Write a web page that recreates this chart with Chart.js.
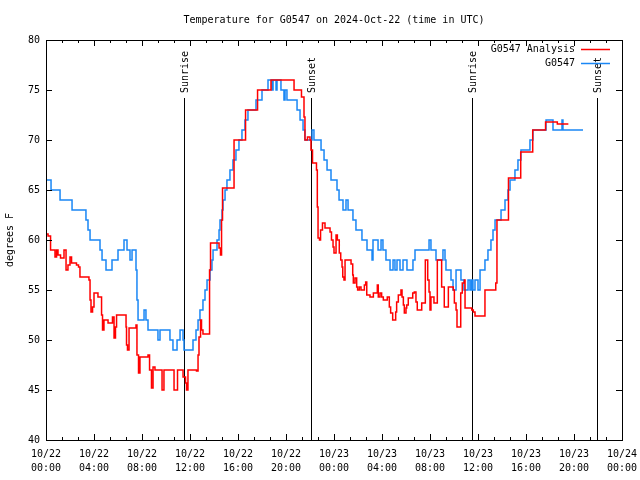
<!DOCTYPE html>
<html>
<head>
<meta charset="utf-8">
<script src="https://cdn.jsdelivr.net/npm/chart.js@4"></script>
<style>
  body { margin: 0; background: #fff; }
  canvas { display: block; background: #fff; }
</style>
</head>
<body>
<canvas id="chart" width="640" height="480"></canvas>
<script>
// hours since 2024-10-22 00:00 UTC where the value changes
const obsHours = [0, 0.42, 1.17, 2.17, 3.33, 3.5, 3.67, 4.5, 4.67, 5.0, 5.5, 6.0, 6.5, 6.75, 7.0, 7.17, 7.5, 7.58, 7.67,
  8.17, 8.33, 8.5, 9.33, 9.5, 10.33, 10.58, 10.92, 11.17, 11.42, 11.5, 12.25, 12.5, 12.67, 12.83, 13.08, 13.25, 13.42,
  13.67, 13.83, 13.92, 14.25, 14.42, 14.5, 14.67, 14.75, 14.92, 15.08, 15.33, 15.58, 15.83, 16.08, 16.33, 16.58, 16.83,
  17.5, 18.0, 18.5, 18.83, 18.92, 19.17, 19.25, 19.58, 19.83, 19.92, 20.08, 20.92, 21.17, 21.42, 21.58, 22.17, 22.33,
  22.92, 23.17, 23.42, 23.75, 24.25, 24.42, 24.75, 25.0, 25.17, 25.58, 25.83, 26.33, 26.75, 27.17, 27.25, 27.67, 27.92,
  28.08, 28.33, 28.67, 28.92, 29.08, 29.25, 29.5, 29.75, 30.08, 30.58, 30.75, 31.92, 32.08, 32.5, 33.08, 33.25, 33.33,
  33.75, 33.92, 34.17, 34.58, 34.83, 35.17, 35.33, 35.46, 35.58, 35.75, 36.0, 36.17, 36.58, 36.83, 37.08, 37.25, 37.42,
  37.92, 38.25, 38.5, 38.67, 39.08, 39.33, 39.58, 40.33, 40.58, 41.67, 42.25, 43.0, 43.08, 44.75]
const obsTemps = [66, 65, 64, 63, 62, 61, 60, 59, 58, 57, 58, 59, 60, 59, 58, 59, 57, 54, 52,
  53, 52, 51, 50, 51, 50, 49, 50, 51, 50, 49, 50, 51, 52, 53, 54, 55, 56,
  57, 58, 59, 60, 61, 62, 63, 64, 65, 66, 67, 68, 69, 70, 71, 72, 73,
  74, 75, 76, 75, 76, 75, 76, 75, 74, 75, 74, 73, 72, 71, 70, 71, 70,
  69, 68, 67, 66, 65, 64, 63, 64, 63, 62, 61, 60, 59, 58, 60, 59, 60,
  59, 58, 57, 58, 57, 58, 57, 58, 57, 58, 59, 60, 59, 58, 59, 58, 57,
  56, 55, 57, 56, 55, 56, 55, 56, 55, 56, 55, 57, 58, 59, 60, 61, 62,
  63, 64, 65, 66, 67, 68, 69, 70, 71, 72, 71, 72, 71, 71]

const anaHours = [0, 0.17, 0.38, 0.75, 0.88, 1.0, 1.21, 1.5, 1.67, 1.83, 2.0, 2.13, 2.54, 2.71, 2.83, 3.58, 3.67, 3.75,
  3.88, 4.0, 4.33, 4.63, 4.71, 4.83, 5.17, 5.54, 5.67, 5.79, 5.88, 6.67, 6.71, 6.79, 6.92, 7.5, 7.58, 7.71, 7.83, 8.5,
  8.63, 8.79, 8.92, 9.08, 9.67, 9.83, 10.67, 10.96, 11.42, 11.63, 11.71, 11.83, 12.54, 12.67, 12.75, 12.88, 12.96,
  13.08, 13.63, 13.71, 14.42, 14.54, 14.63, 14.71, 15.67, 16.63, 17.63, 18.75, 20.67, 21.29, 21.5, 21.58, 21.79, 22.0,
  22.08, 22.21, 22.54, 22.61, 22.67, 22.79, 22.88, 23.04, 23.25, 23.67, 23.79, 23.92, 24.0, 24.17, 24.28, 24.44, 24.56,
  24.67, 24.73, 24.83, 24.92, 25.42, 25.56, 25.61, 25.75, 25.89, 25.97, 26.11, 26.25, 26.53, 26.64, 26.73, 27.0, 27.28,
  27.61, 27.69, 27.83, 27.97, 28.11, 28.44, 28.61, 28.72, 28.89, 29.14, 29.22, 29.36, 29.58, 29.67, 29.78, 29.86, 30.0,
  30.06, 30.19, 30.56, 30.69, 30.83, 30.94, 31.31, 31.61, 31.81, 31.92, 32.0, 32.08, 32.33, 32.61, 32.97, 33.19, 33.53,
  33.94, 34.03, 34.17, 34.25, 34.56, 34.69, 34.86, 34.92, 35.48, 35.61, 35.75, 36.58, 37.48, 37.58, 38.54, 39.56, 40.56,
  41.63, 42.61, 43.53]
const anaTemps = [60.6, 60.4, 59, 58.3, 59, 58.5, 58.2, 59, 57, 57.5, 58.3, 57.7, 57.5, 57.3, 56.3, 56, 54, 52.8,
  53.3, 54.7, 54.3, 52.5, 51, 52, 51.7, 52.3, 50.2, 51.3, 52.5, 51.3, 49.5, 49, 51.2, 51.5, 48.5, 46.7, 48.3, 48.5,
  47, 45.2, 47.3, 47, 45, 47, 45, 47, 46.3, 45.7, 45, 47, 46.9, 48.5, 50.3, 52, 51,
  50.6, 57, 59.7, 59.2, 58.5, 62, 65.2, 70, 73, 75, 76, 75, 74.3, 72.3, 70, 70.3, 70,
  69, 67.7, 67, 63.3, 60.2, 60, 61, 61.7, 61.2, 60.8, 60, 59.3, 58.7, 60.5, 60, 58.7, 58,
  57.3, 56.3, 56, 58, 57.6, 56.5, 55.7, 56.2, 55.3, 55, 55.3, 55, 55.5, 55.8, 54.5, 54.3, 54.7,
  55.5, 54.3, 54.7, 54.3, 54, 54.3, 53.3, 52.7, 52, 52.8, 53.8, 54.5, 55, 54.3, 53.5, 52.7, 53.2,
  53.5, 54.2, 54.7, 54.8, 53.8, 53, 53.7, 58, 56, 54.8, 53, 54.3, 53.7, 58, 55.3, 53.3, 55.3,
  55, 53.7, 53, 51.3, 54.7, 55.7, 56, 53.2, 53, 52.8, 52.4, 55, 55.7, 62, 66.2, 68.8, 71,
  71.8, 71.6, 71.6]

const dateLabels = ['10/22', '10/22', '10/22', '10/22', '10/22', '10/22', '10/23', '10/23', '10/23', '10/23', '10/23', '10/23', '10/24']
const timeLabels = ['00:00', '04:00', '08:00', '12:00', '16:00', '20:00', '00:00', '04:00', '08:00', '12:00', '16:00', '20:00', '00:00']

const sunNames = ['Sunrise', 'Sunset', 'Sunrise', 'Sunset']
const sunHours = [11.53, 22.05, 35.48, 45.95]

const mono = 'DejaVu Sans Mono'

const overlay = {
  id: 'overlay',
  beforeDatasetsDraw(chart) {
    const { ctx, chartArea, scales } = chart
    ctx.save()
    ctx.strokeStyle = '#000'
    ctx.lineWidth = 1
    ctx.fillStyle = '#000'
    ctx.font = '10px ' + mono
    sunHours.forEach((h, i) => {
      const x = Math.round(scales.x.getPixelForValue(h)) + 0.5
      ctx.beginPath()
      ctx.moveTo(x, 98)
      ctx.lineTo(x, chartArea.bottom)
      ctx.stroke()
      ctx.save()
      ctx.translate(x + 1, 93)
      ctx.rotate(-Math.PI / 2)
      ctx.textAlign = 'left'
      ctx.textBaseline = 'middle'
      ctx.fillText(sunNames[i], 0, 0)
      ctx.restore()
    })
    ctx.restore()
  },
  afterDraw(chart) {
    const { ctx, chartArea, scales } = chart
    const { left, right, top, bottom } = chartArea
    ctx.save()
    ctx.strokeStyle = '#000'
    ctx.fillStyle = '#000'
    ctx.lineWidth = 1
    ctx.strokeRect(Math.round(left) + 0.5, Math.round(top) + 0.5, Math.round(right - left), Math.round(bottom - top))

    // inward tics on all four sides
    ctx.beginPath()
    for (let v = 45; v < 80; v += 5) {
      const y = Math.round(scales.y.getPixelForValue(v)) + 0.5
      ctx.moveTo(left, y); ctx.lineTo(left + 6, y)
      ctx.moveTo(right, y); ctx.lineTo(right - 6, y)
    }
    for (let h = 0; h <= 48; h += 4 / 3) {
      const x = Math.round(scales.x.getPixelForValue(h)) + 0.5
      const major = Math.abs(h / 4 - Math.round(h / 4)) < 0.01
      const len = major ? 6 : 3
      ctx.moveTo(x, bottom); ctx.lineTo(x, bottom - len)
      ctx.moveTo(x, top); ctx.lineTo(x, top + len)
    }
    ctx.stroke()

    ctx.font = '10px ' + mono
    ctx.textAlign = 'center'
    ctx.textBaseline = 'middle'
    ctx.fillText('Temperature for G0547 on 2024-Oct-22 (time in UTC)', (left + right) / 2, 20)

    ctx.save()
    ctx.translate(10, (top + bottom) / 2)
    ctx.rotate(-Math.PI / 2)
    ctx.fillText('degrees F', 0, 0)
    ctx.restore()

    // legend
    ctx.textAlign = 'right'
    ctx.lineWidth = 1.5
    chart.data.datasets.forEach((ds, i) => {
      const y = 49 + i * 14
      ctx.fillStyle = '#000'
      ctx.fillText(ds.label, 575, y)
      ctx.strokeStyle = ds.borderColor
      ctx.beginPath()
      ctx.moveTo(581, y + 0.5)
      ctx.lineTo(610, y + 0.5)
      ctx.stroke()
    })
    ctx.restore()
  }
}

const toPoints = (hours, temps) => hours.map((h, i) => ({ x: h, y: temps[i] }))

new Chart(document.getElementById('chart').getContext('2d'), {
  type: 'scatter',
  data: {
    datasets: [
      {
        label: 'G0547 Analysis',
        data: toPoints(anaHours, anaTemps),
        showLine: true,
        stepped: true,
        borderColor: '#ff0000',
        borderWidth: 1.5,
        pointRadius: 0,
      },
      {
        label: 'G0547',
        data: toPoints(obsHours, obsTemps),
        showLine: true,
        stepped: true,
        borderColor: '#1a87f5',
        borderWidth: 1.5,
        pointRadius: 0,
      },
    ],
  },
  options: {
    responsive: false,
    animation: false,
    layout: { padding: { top: 40, right: 18, left: 0, bottom: 0 } },
    plugins: {
      legend: { display: false },
      title: { display: false },
      tooltip: { enabled: false },
    },
    scales: {
      x: {
        type: 'linear',
        min: 0,
        max: 48,
        grid: { display: false, drawTicks: false },
        border: { display: true, color: '#000' },
        ticks: {
          stepSize: 4,
          autoSkip: false,
          maxRotation: 0,
          padding: 7,
          color: '#000',
          font: { family: mono, size: 10, lineHeight: 1.4 },
          callback: (v) => [dateLabels[v / 4], timeLabels[v / 4]],
        },
        afterFit: (s) => {
          s.height = 40
          s.paddingLeft = 0
          s.paddingRight = 0
        },
      },
      y: {
        min: 40,
        max: 80,
        grid: { display: false, drawTicks: false },
        border: { display: true, color: '#000' },
        ticks: {
          stepSize: 5,
          padding: 6,
          color: '#000',
          font: { family: mono, size: 10 },
        },
        afterFit: (s) => {
          s.width = 46
          s.paddingTop = 0
          s.paddingBottom = 0
        },
      },
    },
  },
  plugins: [overlay],
})
</script>
</body>
</html>
